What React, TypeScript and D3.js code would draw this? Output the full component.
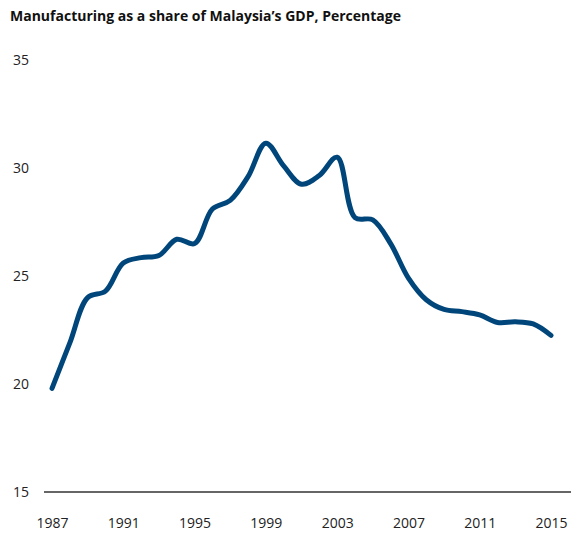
import { useEffect, useRef } from "react";
import * as d3 from "d3";

const years = d3.range(1987, 2016);
const shares = [
  19.8, 21.9, 24.0, 24.3, 25.6, 25.85, 25.95, 26.7, 26.5, 28.1, 28.5, 29.6,
  31.15, 30.1, 29.25, 29.65, 30.5, 27.7, 27.6, 26.5, 24.9, 23.9, 23.45,
  23.35, 23.2, 22.85, 22.88, 22.78, 22.25,
];
const yTicks = [15, 20, 25, 30, 35];
const xTicks = [1987, 1991, 1995, 1999, 2003, 2007, 2011, 2015];
const title = "Manufacturing as a share of Malaysia’s GDP, Percentage";

const App = () => {
  const ref = useRef<SVGSVGElement>(null);

  useEffect(() => {
    draw();
  }, []);

  const draw = () => {
    const width = 571;
    const height = 535;
    const font = "'Open Sans', Lato, sans-serif";

    const svg = d3.select(ref.current).attr("width", width).attr("height", height);
    svg.selectAll("*").remove();

    const xScale = d3.scaleLinear().domain([1987, 2015]).range([52, 551]);
    const yScale = d3.scaleLinear().domain([15, 35]).range([492, 60]);

    // title
    svg
      .append("text")
      .attr("x", 10)
      .attr("y", 21)
      .attr("font-family", font)
      .attr("font-weight", 700)
      .attr("font-size", 14)
      .attr("fill", "#111")
      .text(title);

    // y axis (labels only)
    const yAxis = svg
      .append("g")
      .attr("transform", "translate(29,0)")
      .call(d3.axisLeft(yScale).tickValues(yTicks).tickSize(0).tickPadding(0));
    yAxis.select(".domain").remove();
    yAxis.selectAll("text").attr("font-family", font).attr("font-size", 14).attr("fill", "#222");

    // x axis (labels only)
    const xAxis = svg
      .append("g")
      .attr("transform", "translate(0,518)")
      .call(
        d3
          .axisBottom(xScale)
          .tickValues(xTicks)
          .tickFormat(d3.format("d"))
          .tickSize(0)
          .tickPadding(0)
      );
    xAxis.select(".domain").remove();
    xAxis.selectAll("text").attr("font-family", font).attr("font-size", 14).attr("fill", "#222");

    // baseline at 15
    svg
      .append("line")
      .attr("x1", 44)
      .attr("x2", width)
      .attr("y1", yScale(15))
      .attr("y2", yScale(15))
      .attr("stroke", "#333")
      .attr("stroke-width", 1.3);

    const line = d3
      .line<number>()
      .x((d, i) => xScale(years[i]))
      .y((d) => yScale(d))
      .curve(d3.curveCatmullRom.alpha(0.5));

    svg
      .append("path")
      .datum(shares)
      .attr("d", line)
      .attr("fill", "none")
      .attr("stroke", "#00467a")
      .attr("stroke-width", 5)
      .attr("stroke-linecap", "round")
      .attr("stroke-linejoin", "round");
  };

  return (
    <div style={{ position: "absolute", left: 0, top: 0 }}>
      <svg ref={ref}></svg>
    </div>
  );
};

export default App;
